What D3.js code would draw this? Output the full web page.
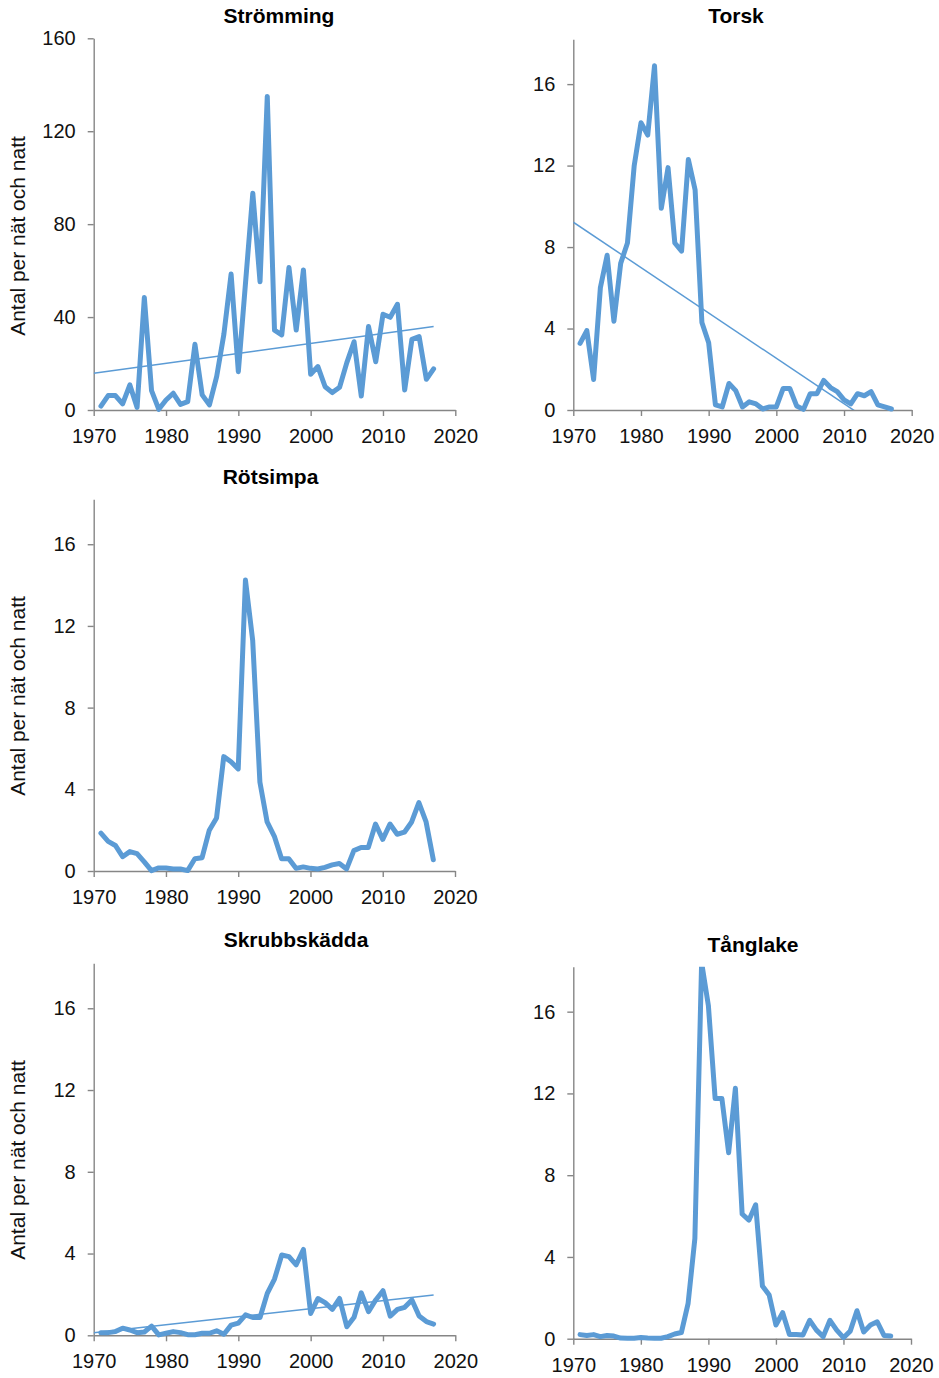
<!DOCTYPE html>
<html>
<head>
<meta charset="utf-8">
<script src="https://cdn.jsdelivr.net/npm/d3@7.9.0/dist/d3.min.js"></script>
<style>
  body { margin: 0; background: #fff; }
  svg { display: block; font-family: "Liberation Sans", Arial, sans-serif; }
  .axis path, .axis line { stroke: #868686; stroke-width: 1.4; }
  .axis text { fill: #111; font-size: 20px; }
  .title { font-size: 21px; font-weight: bold; fill: #000; }
  .ylabel { font-size: 21px; fill: #111; }
</style>
</head>
<body>
<svg id="chart" width="939" height="1378"></svg>
<script>
const years = [1971, 1972, 1973, 1974, 1975, 1976, 1977, 1978, 1979, 1980,
  1981, 1982, 1983, 1984, 1985, 1986, 1987, 1988, 1989, 1990,
  1991, 1992, 1993, 1994, 1995, 1996, 1997, 1998, 1999, 2000,
  2001, 2002, 2003, 2004, 2005, 2006, 2007, 2008, 2009, 2010,
  2011, 2012, 2013, 2014, 2015, 2016, 2017];

const strommingValues = [1.7, 6.2, 6.2, 2.6, 10.8, 1.1, 48.4, 8.3, 0.3, 4.3,
  7.2, 2.4, 3.6, 28.3, 6.5, 2.2, 14.4, 32.6, 58.5, 16.5,
  55, 93.3, 55.2, 135, 34.4, 32.3, 61.3, 34.4, 60.3, 15.4,
  18.7, 10, 7.5, 9.8, 20.4, 29.4, 6, 35.9, 20.8, 41.2,
  39.9, 45.5, 8.6, 30.4, 31.6, 13.2, 17.7];

const torskValues = [3.27, 3.9, 1.5, 6.0, 7.6, 4.36, 7.2, 8.2, 12.0, 14.1,
  13.5, 16.9, 9.9, 11.9, 8.2, 7.8, 12.3, 10.8, 4.3, 3.3,
  0.25, 0.15, 1.3, 0.95, 0.15, 0.4, 0.3, 0.05, 0.15, 0.15,
  1.05, 1.05, 0.2, 0.03, 0.8, 0.8, 1.45, 1.1, 0.9, 0.5,
  0.3, 0.8, 0.7, 0.9, 0.25, 0.15, 0.05];

const rotsimpaValues = [1.85, 1.45, 1.25, 0.7, 0.95, 0.85, 0.45, 0.02, 0.15, 0.15,
  0.1, 0.1, 0.02, 0.6, 0.65, 2.0, 2.6, 5.6, 5.35, 5.0,
  14.25, 11.3, 4.35, 2.4, 1.7, 0.6, 0.6, 0.13, 0.2, 0.13,
  0.1, 0.18, 0.3, 0.37, 0.1, 1.0, 1.15, 1.15, 2.3, 1.55,
  2.3, 1.8, 1.9, 2.4, 3.35, 2.4, 0.55];

const skrubbskaddaValues = [0.13, 0.13, 0.18, 0.35, 0.26, 0.13, 0.16, 0.45, 0.02, 0.1,
  0.18, 0.13, 0.03, 0.03, 0.1, 0.1, 0.22, 0.05, 0.5, 0.6,
  1.0, 0.87, 0.87, 2.05, 2.75, 3.93, 3.85, 3.45, 4.2, 1.07,
  1.8, 1.6, 1.27, 1.8, 0.42, 0.88, 2.08, 1.16, 1.73, 2.18,
  0.94, 1.27, 1.37, 1.73, 0.94, 0.67, 0.55];

const tanglakeValues = [0.2, 0.16, 0.2, 0.1, 0.16, 0.13, 0.03, 0.02, 0.02, 0.06,
  0.03, 0.02, 0.02, 0.1, 0.23, 0.3, 1.73, 4.9, 18.4, 16.3,
  11.75, 11.75, 9.1, 12.25, 6.1, 5.8, 6.55, 2.58, 2.14, 0.67,
  1.27, 0.2, 0.2, 0.18, 0.9, 0.42, 0.1, 0.9, 0.42, 0.05,
  0.37, 1.37, 0.33, 0.67, 0.83, 0.16, 0.13];

// linear trend lines, read at the ends [year, value]
const strommingTrend = [[1970, 15.8], [2017, 35.9]];
const torskTrend = [[1970, 9.22], [2017, -1.25]];
const skrubbskaddaTrend = [[1970, 0.13], [2017, 1.97]];

const titles = ['Strömming', 'Torsk', 'Rötsimpa', 'Skrubbskädda', 'Tånglake'];
const xTicks = [1970, 1980, 1990, 2000, 2010, 2020];
const strommingTicks = [0, 40, 80, 120, 160];
const smallTicks = [0, 4, 8, 12, 16];
const yLabel = 'Antal per nät och natt';

const blue = '#5b9bd5';

const panels = [
  { title: titles[0], values: strommingValues, trend: strommingTrend, yMax: 160, ticks: strommingTicks,
    left: 93.7, right: 455.3, top: 38.3, bottom: 410, titleX: 279, titleY: 23, labelY: 236 },
  { title: titles[1], values: torskValues, trend: torskTrend, yMax: 18.2, ticks: smallTicks,
    left: 573.3, right: 911.7, top: 39.3, bottom: 410, titleX: 736, titleY: 23 },
  { title: titles[2], values: rotsimpaValues, trend: null, yMax: 18.2, ticks: smallTicks,
    left: 93.7, right: 455, top: 499.3, bottom: 871, titleX: 270.5, titleY: 484, labelY: 696 },
  { title: titles[3], values: skrubbskaddaValues, trend: skrubbskaddaTrend, yMax: 18.2, ticks: smallTicks,
    left: 93.7, right: 455.3, top: 963.3, bottom: 1335.3, titleX: 296, titleY: 947, labelY: 1160 },
  { title: titles[4], values: tanglakeValues, trend: null, yMax: 18.2, ticks: smallTicks,
    left: 573.3, right: 911, top: 966.7, bottom: 1338.7, titleX: 753, titleY: 952 }
];

const svg = d3.select('#chart');
const defs = svg.append('defs');

panels.forEach((p, i) => {
  const x = d3.scaleLinear().domain([1970, 2020]).range([p.left, p.right]);
  const y = d3.scaleLinear().domain([0, p.yMax]).range([p.bottom, p.top]);

  // clip for data (lets the thick line sit on the zero axis) and for the trend
  defs.append('clipPath').attr('id', 'clip-data-' + i)
    .append('rect')
    .attr('x', p.left - 10).attr('y', p.top)
    .attr('width', p.right - p.left + 20).attr('height', p.bottom - p.top + 6);
  defs.append('clipPath').attr('id', 'clip-trend-' + i)
    .append('rect')
    .attr('x', p.left).attr('y', p.top)
    .attr('width', p.right - p.left).attr('height', p.bottom - p.top);

  const g = svg.append('g');

  const xAxis = g.append('g').attr('class', 'axis')
    .attr('transform', `translate(0,${p.bottom})`)
    .call(d3.axisBottom(x).tickValues(xTicks).tickFormat(d3.format('d')).tickSizeInner(6).tickSizeOuter(0).tickPadding(13));
  xAxis.selectAll('text').attr('dy', '0.71em');

  g.append('g').attr('class', 'axis')
    .attr('transform', `translate(${p.left},0)`)
    .call(d3.axisLeft(y).tickValues(p.ticks).tickSizeInner(6).tickSizeOuter(0).tickPadding(12));

  const line = d3.line()
    .x((d, k) => x(years[k]))
    .y(d => y(d));

  if (p.trend) {
    g.append('path')
      .datum(p.trend)
      .attr('clip-path', `url(#clip-trend-${i})`)
      .attr('fill', 'none')
      .attr('stroke', blue)
      .attr('stroke-width', 1.5)
      .attr('d', d3.line().x(d => x(d[0])).y(d => y(d[1])));
  }

  g.append('path')
    .datum(p.values)
    .attr('clip-path', `url(#clip-data-${i})`)
    .attr('fill', 'none')
    .attr('stroke', blue)
    .attr('stroke-width', 5)
    .attr('stroke-linejoin', 'round')
    .attr('stroke-linecap', 'round')
    .attr('d', line);

  g.append('text').attr('class', 'title')
    .attr('x', p.titleX).attr('y', p.titleY)
    .attr('text-anchor', 'middle')
    .text(p.title);

  if (p.labelY) {
    g.append('text').attr('class', 'ylabel')
      .attr('transform', `translate(25,${p.labelY}) rotate(-90)`)
      .attr('text-anchor', 'middle')
      .text(yLabel);
  }
});
</script>
</body>
</html>
